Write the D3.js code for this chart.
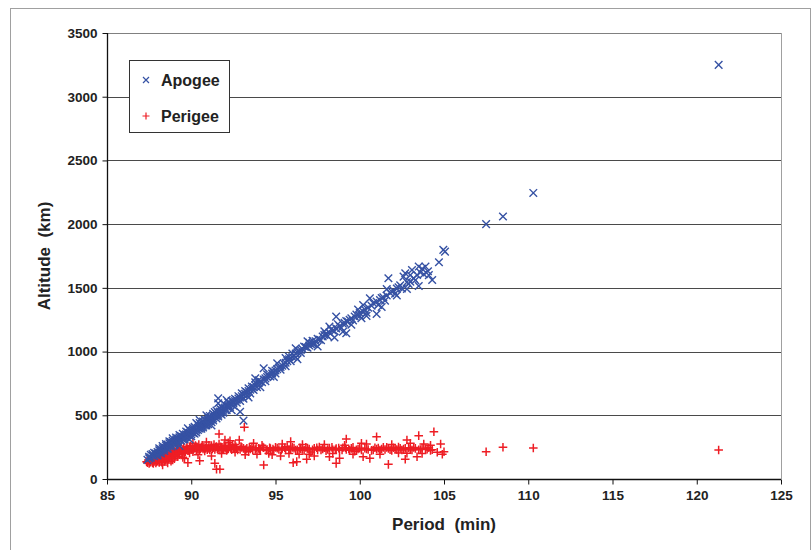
<!DOCTYPE html>
<html>
<head>
<meta charset="utf-8">
<script src="https://cdn.jsdelivr.net/npm/d3@7"></script>
<style>
  html, body { margin: 0; padding: 0; background: #fff; }
  svg { display: block; font-family: "Liberation Sans", Arial, sans-serif; }
</style>
</head>
<body>
<svg id="chart" width="812" height="550"></svg>
<script>
// Orbital period (min) versus apogee / perigee altitude (km)
const apogeePoints = [
  [87.4,150],[87.5,162],[87.5,175],[87.6,168],[87.7,182],[87.7,195],[87.8,178],[87.9,200],[87.9,188],[88.0,212],
  [88.0,198],[88.1,225],[88.1,208],[88.2,232],[88.2,218],[88.3,240],[88.3,226],[88.4,248],[88.4,235],[88.5,262],
  [88.5,244],[88.6,255],[88.6,270],[88.7,262],[88.7,280],[88.8,272],[88.8,290],[88.9,285],[88.9,319],[89.0,292],
  [89.0,278],[89.1,300],[89.1,310],[89.2,298],[89.2,318],[89.3,312],[89.3,328],[89.4,320],[89.4,338],[89.5,330],
  [89.5,312],[89.6,342],[89.6,328],[89.7,350],[89.8,345],[89.8,398],[89.9,360],[89.9,340],[90.0,352],[90.0,370],
  [90.1,362],[90.1,385],[90.2,375],[90.3,392],[90.3,380],[90.4,400],[90.5,463],[90.5,410],[90.5,395],[90.6,420],
  [90.6,408],[90.7,430],[90.7,418],[90.8,440],[90.8,425],[90.9,452],[90.9,436],[91.0,462],[91.0,448],[91.1,470],
  [91.1,455],[91.2,482],[91.2,468],[91.3,490],[91.3,475],[91.4,500],[91.4,486],[91.5,510],[91.5,494],[91.6,594],
  [91.6,633],[91.6,520],[91.6,505],[91.7,530],[91.7,514],[91.8,540],[91.8,525],[91.9,550],[91.9,535],[92.0,560],
  [92.0,548],[92.1,570],[92.2,575],[92.2,560],[92.3,590],[92.4,585],[92.5,605],[92.5,592],[92.6,612],[92.7,620],
  [92.8,632],[92.9,528],[92.9,640],[93.0,650],[93.1,458],[93.1,662],[93.2,668],[93.3,680],[93.4,690],[93.5,700],
  [93.6,708],[93.7,722],[93.8,735],[93.9,745],[94.0,752],[94.1,765],[94.3,869],[94.3,780],[94.4,790],[94.5,800],
  [94.6,812],[94.8,828],[94.9,842],[95.0,852],[95.1,908],[95.1,862],[95.3,880],[95.4,890],[95.6,912],[95.7,925],
  [95.8,940],[96.0,958],[96.1,968],[96.2,1026],[96.2,985],[96.3,995],[96.5,1012],[96.6,1020],[96.8,1035],[97.0,1048],
  [97.1,1058],[97.2,1062],[97.4,1080],[97.6,1095],[97.8,1118],[98.0,1135],[98.2,1196],[98.2,1150],[98.4,1165],[98.6,1274],
  [98.6,1182],[98.8,1200],[99.0,1156],[99.0,1218],[99.2,1144],[99.2,1240],[99.3,1235],[99.5,1262],[99.7,1275],[100.0,1302],
  [100.1,1261],[100.2,1366],[100.3,1330],[100.5,1345],[100.6,1418],[100.7,1360],[101.0,1295],[101.0,1392],[101.2,1405],[101.4,1425],
  [101.6,1440],[101.7,1575],[101.8,1460],[102.0,1478],[102.2,1495],[102.4,1520],[102.6,1588],[102.7,1615],[102.8,1491],[102.8,1545],
  [103.0,1549],[103.1,1640],[103.2,1575],[103.4,1601],[103.5,1515],[103.5,1667],[103.6,1620],[103.8,1607],[103.9,1667],[104.05,1630],
  [104.3,1562],[104.7,1701],[104.96,1798],[105.06,1784],[107.5,2000],[108.5,2060],[110.3,2245],[121.3,3250],
  [87.6,190],[87.8,205],[88.0,185],[88.1,240],[88.2,200],[88.3,258],[88.4,220],[88.5,275],[88.6,238],[88.7,295],
  [88.8,255],[88.9,300],[89.0,265],[89.1,325],[89.2,285],[89.3,345],[89.4,300],[89.5,355],[89.6,312],[89.7,372],
  [89.7,330],[89.8,365],[89.9,385],[90.0,335],[90.1,400],[90.2,355],[90.2,410],[90.3,365],[90.4,425],[90.4,385],
  [90.5,440],[90.6,395],[90.7,450],[90.7,405],[90.8,465],[90.9,420],[91.0,485],[91.0,430],[91.1,495],[91.2,445],
  [91.3,512],[91.3,460],[91.4,525],[91.5,475],[91.5,538],[91.6,490],[91.7,552],[91.8,505],[91.8,565],[91.9,520],
  [92.0,585],[92.1,540],[92.2,600],[92.3,565],[92.4,612],[92.5,575],[92.6,630],[92.7,598],[92.8,650],[92.9,612],
  [93.0,672],[93.1,630],[93.2,690],[93.3,655],[93.4,712],[93.5,672],[93.6,725],[93.7,698],[93.8,758],[93.9,720],
  [94.0,775],[94.2,760],[94.4,768],[94.5,822],[94.7,805],[94.8,850],[95.0,828],[95.2,875],[95.3,858],[95.5,905],
  [95.6,885],[95.8,960],[95.9,925],[96.0,985],[96.2,955],[96.4,1005],[96.5,990],[96.7,1040],[96.9,1030],[97.0,1070],
  [97.2,1085],[97.3,1060],[97.5,1100],[97.7,1090],[97.9,1130],[98.1,1120],[98.3,1175],[98.5,1160],[98.7,1215],[98.9,1185],
  [99.1,1225],[99.4,1250],[99.6,1245],[99.8,1290],[100.0,1280],[100.2,1315],[100.4,1305],[100.8,1380],[101.1,1365],[101.3,1420],
  [101.5,1400],[101.9,1470],[102.1,1455],[102.3,1505],[102.5,1495],[102.9,1530],[103.3,1560],[103.7,1650],[104.1,1600],
  [89.3,260],[89.9,310],[90.3,440],[90.9,500],[91.2,420],[92.1,620],[92.4,540],[93.4,640],[93.8,790],[94.1,720],
  [94.9,800],[95.6,950],[96.3,940],[96.9,1080],[97.5,1040],[97.9,1160],[98.5,1110],[99.5,1210],[99.9,1330],[100.4,1280],
  [101.3,1350],[101.6,1490],[102.2,1440],[103.0,1600]
];

const perigeePoints = [
  [87.35,136],[87.4,128],[87.5,140],[87.5,122],[87.6,135],[87.6,150],[87.7,128],[87.7,145],[87.8,138],[87.8,160],
  [87.9,125],[87.9,150],[88.0,142],[88.0,168],[88.1,130],[88.1,158],[88.2,175],[88.2,145],[88.3,162],[88.3,185],
  [88.4,138],[88.4,170],[88.5,192],[88.5,155],[88.6,178],[88.6,200],[88.7,165],[88.7,188],[88.8,205],[88.8,140],
  [88.9,202],[88.9,180],[89.0,210],[89.0,160],[89.1,195],[89.1,220],[89.2,175],[89.2,212],[89.3,228],[89.3,190],
  [89.4,218],[89.5,232],[89.5,200],[89.6,225],[89.6,160],[89.7,238],[89.8,128],[89.8,222],[89.9,240],[89.9,205],
  [90.0,232],[90.1,215],[90.2,245],[90.3,228],[90.4,238],[90.5,144],[90.5,225],[90.6,250],[90.7,235],[90.8,220],
  [90.9,258],[91.0,240],[91.1,228],[91.2,262],[91.3,245],[91.4,123],[91.4,232],[91.5,76],[91.5,255],[91.6,240],
  [91.65,353],[91.7,76],[91.7,228],[91.8,248],[91.9,235],[92.0,306],[92.0,242],[92.1,225],[92.2,285],[92.2,238],
  [92.3,250],[92.4,230],[92.5,245],[92.6,210],[92.7,238],[92.85,306],[92.9,232],[93.0,248],[93.15,406],[93.2,228],
  [93.3,240],[93.4,215],[93.5,235],[93.6,250],[93.8,232],[93.9,195],[94.0,240],[94.1,228],[94.3,110],[94.3,245],
  [94.5,232],[94.6,200],[94.7,238],[94.9,225],[95.0,248],[95.2,232],[95.3,180],[95.4,240],[95.6,228],[95.7,255],
  [95.9,293],[95.9,235],[96.05,128],[96.1,242],[96.26,136],[96.3,230],[96.4,195],[96.5,238],[96.7,225],[96.8,248],
  [96.85,155],[97.0,235],[97.1,212],[97.3,180],[97.3,240],[97.5,228],[97.6,250],[97.8,236],[98.0,222],[98.2,175],
  [98.2,242],[98.4,230],[98.6,123],[98.6,238],[98.8,162],[98.8,228],[99.0,245],[99.2,314],[99.2,232],[99.4,225],
  [99.5,240],[99.7,218],[99.9,236],[100.1,280],[100.1,228],[100.2,175],[100.3,242],[100.5,232],[100.6,162],[100.7,225],
  [100.9,245],[101.0,332],[101.0,236],[101.2,228],[101.4,248],[101.5,232],[101.7,115],[101.7,240],[101.9,225],[102.1,238],
  [102.3,250],[102.5,228],[102.7,155],[102.7,240],[102.8,306],[102.8,202],[103.0,235],[103.2,248],[103.4,175],[103.5,340],
  [103.5,230],[103.7,242],[103.8,275],[104.0,233],[104.2,225],[104.4,371],[104.8,275],[104.9,194],[105.0,214],[107.5,214],
  [108.5,249],[110.3,243],[121.3,228],
  [87.45,150],[87.55,130],[87.65,158],[87.75,122],[87.85,170],[87.95,135],[88.05,150],[88.15,185],[88.25,132],[88.35,195],
  [88.45,148],[88.55,210],[88.65,158],[88.75,220],[88.85,172],[88.95,228],[89.05,185],[89.15,238],[89.25,200],[89.35,245],
  [89.45,210],[89.55,250],[89.65,215],[89.75,255],[89.85,225],[89.95,260],[90.05,248],[90.15,235],[90.25,262],[90.35,250],
  [90.45,270],[90.55,238],[90.65,265],[90.75,248],[90.85,240],[90.95,230],[91.05,265],[91.15,245],[91.25,235],[91.35,270],
  [91.45,250],[91.55,238],[91.65,275],[91.75,252],[91.85,230],[91.95,262],[92.05,248],[92.15,232],[92.25,258],[92.35,240],
  [92.45,265],[92.55,235],[92.65,252],[92.75,228],[92.95,255],[93.1,240],[93.25,232],[93.45,248],[93.65,228],[93.85,245],
  [94.05,232],[94.25,250],[94.45,225],[94.65,245],[94.85,235],[95.1,242],[95.35,228],[95.55,245],[95.8,232],[96.0,248],
  [96.2,228],[96.45,245],[96.6,232],[96.9,242],[97.2,230],[97.45,245],[97.7,228],[97.9,245],[98.1,232],[98.35,248],
  [98.55,230],[98.75,242],[98.95,228],[99.15,245],[99.35,235],[99.6,248],[99.8,230],[100.0,242],[100.4,235],[100.8,228],
  [101.1,242],[101.3,235],[101.6,248],[101.8,230],[102.0,245],[102.2,232],[102.4,240],[102.6,235],[102.9,245],[103.1,228],
  [103.3,240],[103.6,232],[103.9,238],[104.1,245],[104.3,230],
  [88.3,110],[88.6,125],[88.9,150],[89.2,265],[89.5,170],[90.1,280],[90.4,190],[90.9,290],[91.2,180],[91.8,200],
  [92.3,300],[92.6,270],[93.2,190],[93.7,280],[94.2,265],[94.8,190],[95.4,275],[95.8,200],[96.6,270],[97.0,195],
  [97.9,270],[98.4,200],[99.1,265],[99.6,195],[100.4,275],[101.2,195],[101.9,270],[102.3,205],[103.0,280],[103.7,200],
  [104.2,265],[104.6,210]
];

const xTicks = [85, 90, 95, 100, 105, 110, 115, 120, 125];
const yTicks = [0, 500, 1000, 1500, 2000, 2500, 3000, 3500];
const seriesNames = ["Apogee", "Perigee"];

const colors = { apogee: "#3652a4", perigee: "#ee1d24" };

const svg = d3.select("#chart");
const margin = { left: 107, right: 781, top: 33, bottom: 479 };

const x = d3.scaleLinear().domain([85, 125]).range([margin.left, margin.right]);
const y = d3.scaleLinear().domain([0, 3500]).range([margin.bottom, margin.top]);

// outer frame
svg.append("rect")
  .attr("x", 10.5).attr("y", 8.5).attr("width", 800).attr("height", 560)
  .attr("fill", "none").attr("stroke", "#a0a0a0").attr("stroke-width", 1);

// horizontal gridlines
svg.append("g").selectAll("line").data(yTicks.filter(d => d > 0)).join("line")
  .attr("x1", margin.left).attr("x2", margin.right)
  .attr("y1", d => Math.round(y(d)) + 0.5).attr("y2", d => Math.round(y(d)) + 0.5)
  .attr("stroke", d => d === 3500 ? "#808080" : "#4a4a4a").attr("stroke-width", 1);

// right edge of the plot area
svg.append("line")
  .attr("x1", margin.right + 0.5).attr("x2", margin.right + 0.5)
  .attr("y1", margin.top).attr("y2", margin.bottom)
  .attr("stroke", "#a0a0a0");

// axes
const xAxis = d3.axisBottom(x).tickValues(xTicks).tickSize(5).tickPadding(6).tickFormat(d3.format("d"));
const yAxis = d3.axisLeft(y).tickValues(yTicks).tickSize(5).tickPadding(5).tickFormat(d3.format("d"));

const gx = svg.append("g").attr("transform", `translate(0,${Math.round(y(0)) + 0.5})`).call(xAxis);
const gy = svg.append("g").attr("transform", `translate(${margin.left + 0.5},0)`).call(yAxis);

[gx, gy].forEach(g => {
  g.select(".domain").attr("stroke", "#111").attr("stroke-width", 1.3);
  g.selectAll(".tick line").attr("stroke", "#111");
  g.selectAll(".tick text")
    .attr("fill", "#222")
    .style("font-size", "13.5px")
    .style("font-weight", "bold")
    .style("font-family", "'Liberation Sans', Arial, sans-serif");
});
gx.select(".domain").attr("d", `M${margin.left},0H${margin.right}`);
gy.select(".domain").attr("d", `M0,${margin.bottom}V${margin.top}`);

// marker shapes
const crossX = s => `M${-s},${-s}L${s},${s}M${-s},${s}L${s},${-s}`;
const crossP = s => `M${-s},0H${s}M0,${-s}V${s}`;

// perigee drawn first, apogee above
svg.append("g").selectAll("path").data(perigeePoints).join("path")
  .attr("transform", d => `translate(${x(d[0])},${y(d[1])})`)
  .attr("d", crossP(4.3))
  .attr("fill", "none").attr("stroke", colors.perigee).attr("stroke-width", 1.5);

svg.append("g").selectAll("path").data(apogeePoints).join("path")
  .attr("transform", d => `translate(${x(d[0])},${y(d[1])})`)
  .attr("d", crossX(3.8))
  .attr("fill", "none").attr("stroke", colors.apogee).attr("stroke-width", 1.4);

// axis titles
svg.append("text")
  .attr("x", (margin.left + margin.right) / 2).attr("y", 530)
  .attr("text-anchor", "middle")
  .style("font-size", "17px").style("font-weight", "bold").attr("fill", "#222")
  .attr("xml:space", "preserve").style("white-space", "pre")
  .text("Period  (min)");

svg.append("text")
  .attr("transform", `translate(50,${(margin.top + margin.bottom) / 2}) rotate(-90)`)
  .attr("text-anchor", "middle")
  .style("font-size", "17px").style("font-weight", "bold").attr("fill", "#222")
  .attr("xml:space", "preserve").style("white-space", "pre")
  .text("Altitude  (km)");

// legend
const legend = svg.append("g");
legend.append("rect")
  .attr("x", 129.5).attr("y", 60.5).attr("width", 100).attr("height", 72)
  .attr("fill", "#fff").attr("stroke", "#333").attr("stroke-width", 1);

const legendRows = [
  { name: seriesNames[0], color: colors.apogee, shape: crossX(3), y: 80 },
  { name: seriesNames[1], color: colors.perigee, shape: crossP(3.5), y: 116 }
];
legendRows.forEach(r => {
  legend.append("path")
    .attr("transform", `translate(146,${r.y})`)
    .attr("d", r.shape).attr("fill", "none")
    .attr("stroke", r.color).attr("stroke-width", 1.2);
  legend.append("text")
    .attr("x", 161).attr("y", r.y).attr("dy", "0.36em")
    .style("font-size", "16px").style("font-weight", "bold").attr("fill", "#222")
    .text(r.name);
});
</script>
</body>
</html>
